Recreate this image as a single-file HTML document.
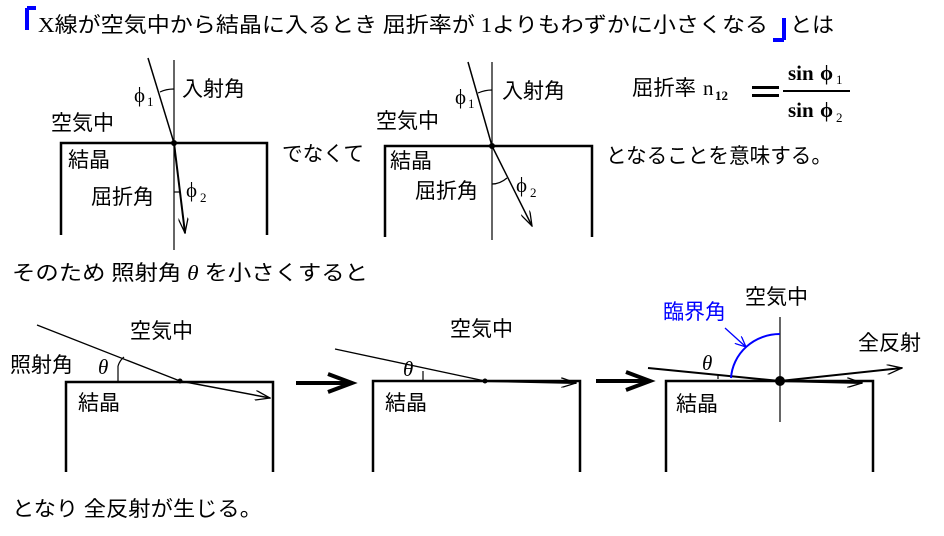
<!DOCTYPE html>
<html><head><meta charset="utf-8"><style>
html,body{margin:0;padding:0;background:#fff;width:944px;height:536px;overflow:hidden}
svg{display:block}
text{font-family:"Liberation Serif","Noto Sans CJK JP",sans-serif;font-size:21px;fill:#000}
.b{fill:#0000ff}
.s{font-size:13px}
</style></head><body>
<svg width="944" height="536" viewBox="0 0 944 536" xmlns="http://www.w3.org/2000/svg">
<defs>
<marker id="a" markerWidth="16" markerHeight="10" refX="15" refY="5" orient="auto" markerUnits="userSpaceOnUse"><path d="M0,0 L15,5 L0,10" fill="none" stroke="#000" stroke-width="1.3"/></marker>
<marker id="ab" markerWidth="12" markerHeight="10" refX="11" refY="5" orient="auto" markerUnits="userSpaceOnUse"><path d="M0,0 L11,5 L0,10" fill="none" stroke="#00f" stroke-width="1.3"/></marker>
</defs>
<!-- title -->
<path d="M27,8 V30 M27,8 H36" stroke="#00f" stroke-width="4" fill="none"/>
<text x="38" y="32" textLength="730" lengthAdjust="spacingAndGlyphs">X線が空気中から結晶に入るとき 屈折率が 1よりもわずかに小さくなる</text>
<path d="M784,40 V18 M784,40 H773" stroke="#00f" stroke-width="4" fill="none"/>
<text x="790" y="32" textLength="44" lengthAdjust="spacingAndGlyphs">とは</text>

<!-- diagram 1 -->
<g stroke="#000" fill="none">
<path d="M61,235 V143 H267 V235" stroke-width="2.5"/>
<line x1="174" y1="60" x2="174" y2="250" stroke-width="1.2"/>
<line x1="148" y1="58" x2="174" y2="143" stroke-width="1.5"/>
<line x1="174" y1="143" x2="185" y2="233" stroke-width="2" marker-end="url(#a)"/>
<path d="M160,92 Q166,89 174,89" stroke-width="1.2"/>
<line x1="174" y1="192" x2="180" y2="192" stroke-width="1.2"/>
</g>
<circle cx="174" cy="143" r="3"/>
<text x="134" y="102">ϕ</text><text x="147" y="106" class="s">1</text>
<text x="182" y="96">入射角</text>
<text x="51" y="130">空気中</text>
<text x="68" y="167">結晶</text>
<text x="91" y="204">屈折角</text>
<text x="186" y="197">ϕ</text><text x="200" y="202" class="s">2</text>
<text x="282" y="161" textLength="82" lengthAdjust="spacingAndGlyphs">でなくて</text>

<!-- diagram 2 -->
<g stroke="#000" fill="none">
<path d="M385,237 V146 H592 V237" stroke-width="2.5"/>
<line x1="492" y1="62" x2="492" y2="240" stroke-width="1.2"/>
<line x1="468" y1="62" x2="492" y2="146" stroke-width="1.5"/>
<line x1="492" y1="146" x2="532" y2="226" stroke-width="1.5" marker-end="url(#a)"/>
<path d="M478,93 Q485,90 492,90" stroke-width="1.2"/>
<path d="M507,178 Q500,184 492,184" stroke-width="1.2"/>
</g>
<circle cx="492" cy="146" r="3"/>
<text x="455" y="104">ϕ</text><text x="468" y="108" class="s">1</text>
<text x="502" y="98">入射角</text>
<text x="376" y="128">空気中</text>
<text x="390" y="168">結晶</text>
<text x="415" y="198">屈折角</text>
<text x="516" y="192">ϕ</text><text x="530" y="197" class="s">2</text>
<text x="606" y="163" textLength="226" lengthAdjust="spacingAndGlyphs">となることを意味する。</text>

<!-- formula -->
<text x="632" y="95" textLength="64" lengthAdjust="spacingAndGlyphs">屈折率</text>
<text x="703" y="95">n</text><text x="715" y="100" class="s" font-weight="bold">12</text>
<rect x="752" y="86" width="27" height="3"/><rect x="752" y="94" width="27" height="3"/>
<line x1="783" y1="91" x2="850" y2="91" stroke="#000" stroke-width="2"/>
<text x="788" y="80" font-weight="bold">sin</text><text x="820" y="80" font-weight="bold">ϕ</text><text x="836" y="84" class="s">1</text>
<text x="788" y="117" font-weight="bold">sin</text><text x="820" y="117" font-weight="bold">ϕ</text><text x="836" y="122" class="s">2</text>

<text x="12" y="280" textLength="356" lengthAdjust="spacingAndGlyphs">そのため 照射角 <tspan font-style="italic">θ</tspan> を小さくすると</text>

<!-- bottom 1 -->
<g stroke="#000" fill="none">
<path d="M66,472 V382 H273 V472" stroke-width="2.5"/>
<line x1="37" y1="325" x2="180" y2="381" stroke-width="1.3"/>
<line x1="180" y1="381" x2="270" y2="398" stroke-width="1.5" marker-end="url(#a)"/>
<line x1="118" y1="382" x2="118" y2="366" stroke-width="1.2"/>
<path d="M118,366 Q120,360 124,357" stroke-width="1.2"/>
</g>
<circle cx="180" cy="381" r="2.5"/>
<text x="130" y="338">空気中</text>
<text x="10" y="372">照射角</text>
<text x="98" y="374" font-style="italic">θ</text>
<text x="78" y="410">結晶</text>

<!-- big arrows -->
<g stroke="#000" stroke-width="4" fill="none">
<line x1="296" y1="383" x2="350" y2="383"/><path d="M328,374 L352,383 L328,392"/>
<line x1="596" y1="381" x2="648" y2="381"/><path d="M626,372 L650,381 L626,390"/>
</g>

<!-- bottom 2 -->
<g stroke="#000" fill="none">
<path d="M373,472 V381 H580 V472" stroke-width="2.5"/>
<line x1="335" y1="349" x2="485" y2="381" stroke-width="1.3"/>
<line x1="485" y1="381" x2="576" y2="383" stroke-width="2" marker-end="url(#a)"/>
<line x1="423" y1="381" x2="423" y2="371" stroke-width="1.2"/>
</g>
<circle cx="485" cy="381" r="2.5"/>
<text x="450" y="336">空気中</text>
<text x="403" y="376" font-style="italic">θ</text>
<text x="385" y="410">結晶</text>

<!-- bottom 3 -->
<g stroke="#000" fill="none">
<path d="M666,472 V381 H873 V472" stroke-width="2.5"/>
<line x1="780" y1="317" x2="780" y2="422" stroke-width="1.2"/>
<line x1="648" y1="368" x2="780" y2="381" stroke-width="2"/>
<line x1="780" y1="381" x2="902" y2="368" stroke-width="2" marker-end="url(#a)"/>
<line x1="780" y1="381" x2="862" y2="383" stroke-width="2" marker-end="url(#a)"/>
<line x1="718" y1="379" x2="718" y2="375" stroke-width="1.2"/>
</g>
<path d="M731,378 A49,47 0 0 1 780,334" stroke="#00f" stroke-width="2" fill="none"/>
<line x1="725" y1="328" x2="746" y2="347" stroke="#00f" stroke-width="1.3" marker-end="url(#ab)"/>
<circle cx="780" cy="381" r="5"/>
<text x="745" y="304">空気中</text>
<text x="663" y="319" class="b">臨界角</text>
<text x="858" y="350">全反射</text>
<text x="702" y="370" font-style="italic">θ</text>
<text x="676" y="411">結晶</text>

<text x="12" y="516" textLength="250" lengthAdjust="spacingAndGlyphs">となり 全反射が生じる。</text>
</svg>
</body></html>
